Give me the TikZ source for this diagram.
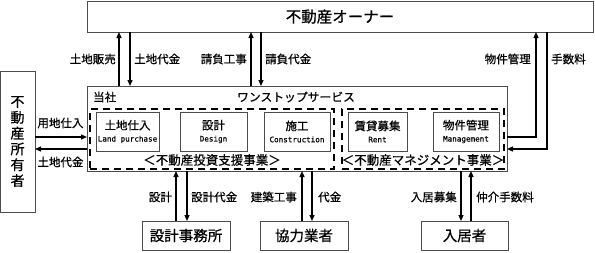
\documentclass[tikz,border=0pt]{standalone}
\usepackage{fontspec}
\setmainfont{Noto Sans CJK JP}[FakeBold=0.6]
\newfontfamily\monofnt{DejaVu Sans Mono}[FakeBold=0.4]
\usetikzlibrary{arrows.meta}
\begin{document}
\begin{tikzpicture}[x=1pt,y=-1pt,
  box/.style={draw=black!70,line width=0.8pt,inner sep=0pt,outer sep=0pt,fill=white},
  dbox/.style={draw=black,line width=2pt,dash pattern=on 7pt off 5pt,inner sep=0pt,outer sep=0pt},
  arr/.style={line width=1.2pt,-{Triangle[length=6pt,width=5pt]}},
  lbl/.style={font=\fontsize{11.5}{13}\selectfont,inner sep=0pt},
  big/.style={font=\fontsize{14.5}{17}\selectfont},
  inner/.style={box,minimum height=39pt,align=center,font=\fontsize{11.5}{13}\selectfont}]
\useasboundingbox (0,0) rectangle (595,252);
% main boxes
\node[box,minimum width=506pt,minimum height=31pt,font=\fontsize{15.5}{17}\selectfont] (owner) at (340,16.5) {不動産オーナー};
\node[box,minimum width=35pt,minimum height=141pt,align=center,font=\fontsize{14}{15.8}\selectfont] (land) at (17.5,141.5) {不\\動\\産\\所\\有\\者};
\node[box,minimum width=420pt,minimum height=85pt] (company) at (297,128.5) {};
\node[lbl,anchor=west] (tosha) at (93,97) {当社};
\node[lbl,font=\fontsize{11.8}{13}\selectfont] (onestop) at (296,97) {ワンストップサービス};
\node[dbox,minimum width=244pt,minimum height=60pt] (dl) at (212,139) {};
\node[dbox,minimum width=162pt,minimum height=60pt] (dr) at (423,139) {};
\node[inner,minimum width=63pt] (b1) at (127.5,131.5) {土地仕入\\[-1pt]{\monofnt\fontsize{7.6}{9}\selectfont Land purchase}};
\node[inner,minimum width=67pt] (b2) at (213.5,131.5) {設計\\[-1pt]{\monofnt\fontsize{7.6}{9}\selectfont Design}};
\node[inner,minimum width=66pt] (b3) at (297,131.5) {施工\\[-1pt]{\monofnt\fontsize{7.6}{9}\selectfont Construction}};
\node[inner,minimum width=59pt] (b4) at (377.5,131.5) {賃貸募集\\[-1pt]{\monofnt\fontsize{7.6}{9}\selectfont Rent}};
\node[inner,minimum width=66pt] (b5) at (466,131.5) {物件管理\\[-1pt]{\monofnt\fontsize{7.6}{9}\selectfont Management}};
\node[lbl,font=\fontsize{12.5}{14}\selectfont] (invest) at (212,160) {＜不動産投資支援事業＞};
\node[lbl,font=\fontsize{12.5}{14}\selectfont] (mgmt) at (423,160) {＜不動産マネジメント事業＞};
\node[box,big,minimum width=88pt,minimum height=29pt] (d1) at (186,235.5) {設計事務所};
\node[box,big,minimum width=88pt,minimum height=29pt] (d2) at (304,235.5) {協力業者};
\node[box,big,minimum width=87pt,minimum height=29pt] (d3) at (464.5,235.5) {入居者};
% coordinates
\coordinate (x1) at (119,0); \coordinate (x2) at (130,0);
\coordinate (x3) at (251,0); \coordinate (x4) at (261,0);
\coordinate (x5) at (536,0); \coordinate (x6) at (547,0);
\coordinate (x7) at (176,0); \coordinate (x8) at (187,0);
\coordinate (x9) at (302,0); \coordinate (x10) at (312,0);
\coordinate (x11) at (461,0); \coordinate (x12) at (471,0);
\coordinate (y1) at (0,137); \coordinate (y2) at (0,149);
\coordinate (c5) at (x5 |- y1); \coordinate (c6) at (x6 |- y2);
% top arrows
\draw[arr] (company.north -| x1) -- (owner.south -| x1);
\draw[arr] (owner.south -| x2) -- (company.north -| x2);
\draw[arr] (company.north -| x3) -- (owner.south -| x3);
\draw[arr] (owner.south -| x4) -- (company.north -| x4);
\draw[arr] (company.east |- y1) -- (c5) -- (owner.south -| x5);
\draw[arr] (owner.south -| x6) -- (c6) -- (company.east |- y2);
% left arrows
\draw[arr] (land.east |- y1) -- (company.west |- y1);
\draw[arr] (company.west |- y2) -- (land.east |- y2);
% bottom arrows
\draw[arr] (d1.north -| x7) -- (company.south -| x7);
\draw[arr] (company.south -| x8) -- (d1.north -| x8);
\draw[arr] (d2.north -| x9) -- (company.south -| x9);
\draw[arr] (company.south -| x10) -- (d2.north -| x10);
\draw[arr] (company.south -| x11) -- (d3.north -| x11);
\draw[arr] (d3.north -| x12) -- (company.south -| x12);
% labels
\node[lbl,anchor=east] (l1) at (116,59) {土地販売};
\node[lbl,anchor=west] (l2) at (134,59) {土地代金};
\node[lbl,anchor=east] (l3) at (247,59) {請負工事};
\node[lbl,anchor=west] (l4) at (265,59) {請負代金};
\node[lbl,anchor=east] (l5) at (531,59) {物件管理};
\node[lbl,anchor=west] (l6) at (551,59) {手数料};
\node[lbl] (l7) at (60.5,123) {用地仕入};
\node[lbl] (l8) at (60.5,162) {土地代金};
\node[lbl,anchor=east] (l9) at (172,197) {設計};
\node[lbl,anchor=west] (l10) at (191,197) {設計代金};
\node[lbl,anchor=east] (l11) at (297,197) {建築工事};
\node[lbl,anchor=west] (l12) at (318,197) {代金};
\node[lbl,anchor=east] (l13) at (457,197) {入居募集};
\node[lbl,anchor=west] (l14) at (476,197) {仲介手数料};
\end{tikzpicture}
\end{document}
